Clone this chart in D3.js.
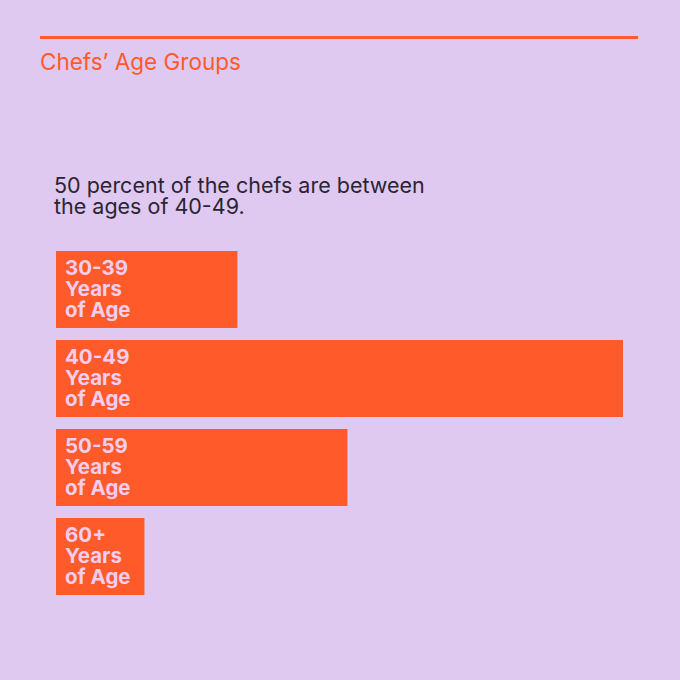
<!DOCTYPE html>
<html>
<head>
<meta charset="utf-8">
<script src="https://cdn.jsdelivr.net/npm/d3@7"></script>
<style>
    html, body { margin: 0; padding: 0; background: #e0c9f1; }
    svg { display: block; font-family: Inter, "Noto Sans", sans-serif; }
</style>
</head>
<body>
<div id="chart"></div>
<script>
'use strict';

// Data
const ageGroups = ['30-39', '40-49', '50-59', '60+'];
const percents = [16, 50, 25.7, 7.8];
const labelLines = ['Years', 'of Age'];
const title = 'Chefs\u2019 Age Groups';
const subtitle = ['50 percent of the chefs are between', 'the ages of 40-49.'];

// Config
const w = 680;
const h = 680;
const orange = '#ff5a2a';
const bg = '#e0c9f1';
const barStep = 89;
const barGap = 12;
const barTop = 251;

const svg = d3.select('#chart')
    .append('svg')
    .attr('width', w)
    .attr('height', h);

svg.append('rect')
    .attr('width', w)
    .attr('height', h)
    .attr('fill', bg);

// Header rule + title
svg.append('rect')
    .attr('x', 40)
    .attr('y', 36)
    .attr('width', 598)
    .attr('height', 3)
    .attr('fill', orange);

svg.append('text')
    .attr('x', 40)
    .attr('y', 70)
    .attr('fill', orange)
    .attr('font-size', 22.5)
    .text(title);

// Subtitle
svg.append('g')
    .selectAll('text')
    .data(subtitle)
    .join('text')
    .attr('x', 54)
    .attr('y', (d, i) => 193 + i * 21)
    .attr('fill', '#2a2433')
    .attr('font-size', 21.5)
    .text(d => d);

// Scales
const x = d3.scaleLinear()
    .domain([0, 50])
    .range([0, 567]);

const y = d3.scaleBand()
    .domain(ageGroups)
    .range([barTop, barTop + barStep * ageGroups.length - barGap])
    .paddingInner(barGap / barStep)
    .paddingOuter(0);

const barsG = svg.append('g')
    .attr('transform', 'translate(56,0)');

const bar = barsG.selectAll('g.bar')
    .data(ageGroups.map((g, i) => ({group: g, value: percents[i]})))
    .join('g')
    .attr('class', 'bar')
    .attr('transform', d => `translate(0,${y(d.group)})`);

bar.append('rect')
    .attr('width', d => x(d.value))
    .attr('height', y.bandwidth())
    .attr('fill', orange);

bar.append('text')
    .attr('fill', '#f2cdee')
    .attr('font-size', 20.5)
    .attr('font-weight', 700)
    .selectAll('tspan')
    .data(d => [d.group].concat(labelLines))
    .join('tspan')
    .attr('x', 9)
    .attr('y', (d, i) => 24 + i * 21)
    .text(d => d);
</script>
</body>
</html>
